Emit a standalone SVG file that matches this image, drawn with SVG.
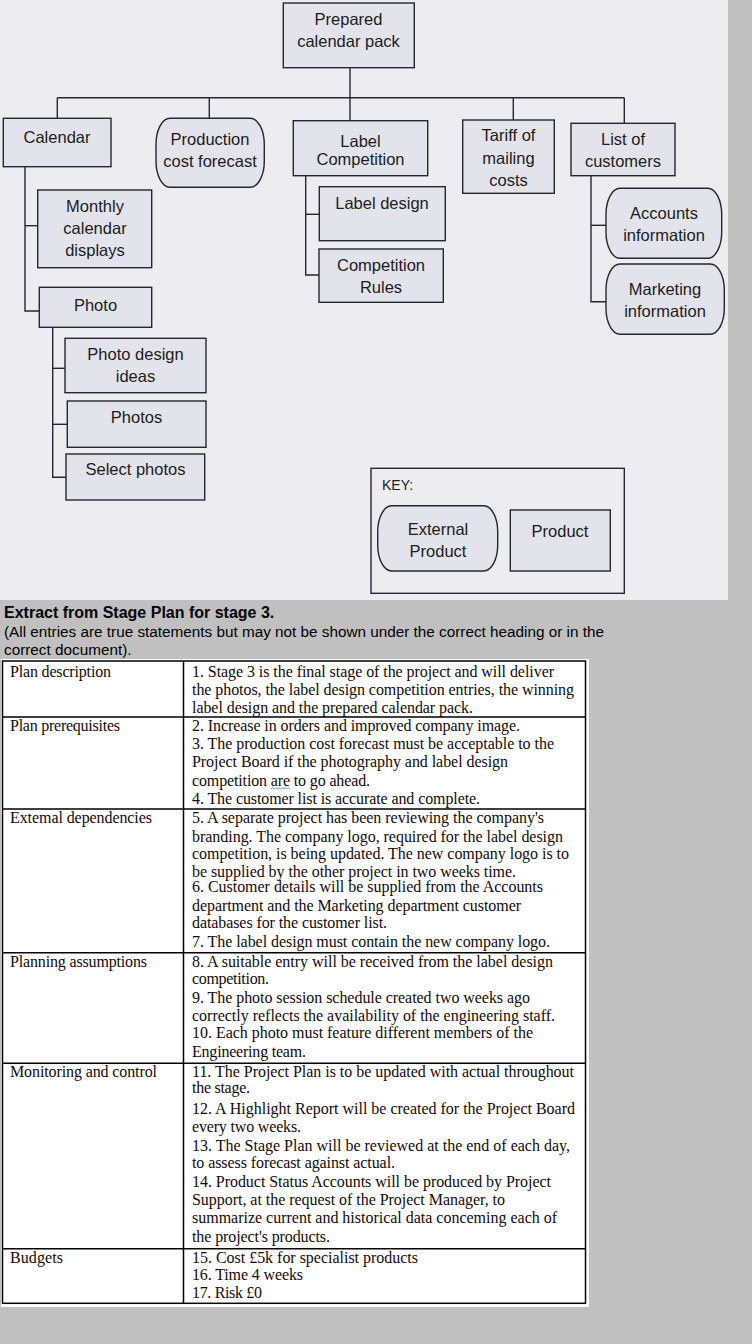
<svg xmlns="http://www.w3.org/2000/svg" width="752" height="1344" viewBox="0 0 752 1344">
<style>
.n{fill:#e3e3eb;stroke:#26262e;stroke-width:1.4}
.k{fill:none;stroke:#26262e;stroke-width:1.4}
.c{fill:none;stroke:#26262e;stroke-width:1.4}
.t{font-family:"Liberation Sans",Arial,sans-serif;font-size:16.5px;fill:#1c1c1c;text-anchor:middle}
.tb{font-family:"Liberation Serif","Times New Roman",serif;font-size:16px;fill:#140a0a}
.h{font-family:"Liberation Sans",Arial,sans-serif;fill:#000}
.g{fill:none;stroke:#000;stroke-width:1.5}
</style>
<rect x="0" y="0" width="752" height="1344" fill="#c0c0c0"/>
<rect x="0" y="0" width="728" height="600" fill="#ededf1"/>

<g id="connectors">
<path class="c" d="M350,68 V120.7"/>
<path class="c" d="M57.3,97.7 H624.3"/>
<path class="c" d="M57.3,97.7 V118.3"/>
<path class="c" d="M209.3,97.7 V118.3"/>
<path class="c" d="M513.3,97.7 V120"/>
<path class="c" d="M624.3,97.7 V123.3"/>
<path class="c" d="M25,166.7 V311 H39.3"/>
<path class="c" d="M25,225.7 H37.7"/>
<path class="c" d="M52.7,327.3 V477.3 H66"/>
<path class="c" d="M52.7,368.3 H65"/>
<path class="c" d="M52.7,424.3 H67.3"/>
<path class="c" d="M305.7,175.7 V275 H319"/>
<path class="c" d="M305.7,214.3 H319.3"/>
<path class="c" d="M591,175.7 V301.7 H607"/>
<path class="c" d="M591,225.3 H606"/>
</g>

<g id="prepared"><rect class="n" x="283.3" y="3" width="131" height="64.7"/><text class="t" x="348.5" y="25">Prepared</text><text class="t" x="348.5" y="47">calendar pack</text></g>
<g id="calendar"><rect class="n" x="3.3" y="118.3" width="107.7" height="48.4"/><text class="t" x="57" y="143">Calendar</text></g>
<g id="production"><rect class="n" x="156" y="118.3" width="108.3" height="69" rx="14" ry="26"/><text class="t" x="210" y="145">Production</text><text class="t" x="210" y="167">cost forecast</text></g>
<g id="label-competition"><rect class="n" x="293.3" y="120.7" width="134.4" height="55"/><text class="t" x="360.5" y="147">Label</text><text class="t" x="360.5" y="165">Competition</text></g>
<g id="tariff"><rect class="n" x="462.7" y="120" width="91.6" height="73.3"/><text class="t" x="508.5" y="141">Tariff of</text><text class="t" x="508.5" y="164">mailing</text><text class="t" x="508.5" y="186">costs</text></g>
<g id="list-customers"><rect class="n" x="571" y="123.3" width="104" height="52.4"/><text class="t" x="623" y="145">List of</text><text class="t" x="623" y="167">customers</text></g>
<g id="monthly"><rect class="n" x="37.7" y="190" width="114" height="77.7"/><text class="t" x="95" y="212">Monthly</text><text class="t" x="95" y="234">calendar</text><text class="t" x="95" y="256">displays</text></g>
<g id="photo"><rect class="n" x="39.3" y="287.3" width="112.4" height="40"/><text class="t" x="95.5" y="311">Photo</text></g>
<g id="photo-design"><rect class="n" x="65" y="338.3" width="141" height="54.4"/><text class="t" x="135.5" y="360">Photo design</text><text class="t" x="135.5" y="382">ideas</text></g>
<g id="photos"><rect class="n" x="67.3" y="401" width="138.7" height="46.3"/><text class="t" x="136.5" y="423">Photos</text></g>
<g id="select-photos"><rect class="n" x="66" y="454" width="138.7" height="46"/><text class="t" x="135.5" y="475">Select photos</text></g>
<g id="label-design"><rect class="n" x="319.3" y="186.7" width="126" height="54"/><text class="t" x="382" y="209">Label design</text></g>
<g id="competition-rules"><rect class="n" x="319" y="249" width="124.3" height="53.3"/><text class="t" x="381" y="271">Competition</text><text class="t" x="381" y="293">Rules</text></g>
<g id="accounts"><rect class="n" x="606" y="188.3" width="115.7" height="70" rx="14" ry="26"/><text class="t" x="664" y="219">Accounts</text><text class="t" x="664" y="241">information</text></g>
<g id="marketing"><rect class="n" x="606" y="264" width="118.3" height="70.3" rx="14" ry="26"/><text class="t" x="665" y="295">Marketing</text><text class="t" x="665" y="317">information</text></g>
<g id="key"><rect class="k" x="371" y="468.3" width="253.3" height="125"/><text class="t" x="382" y="490" style="text-anchor:start;font-size:14px">KEY:</text>
<rect class="n" x="377.7" y="505.7" width="120" height="65.3" rx="14" ry="26"/><text class="t" x="438" y="535">External</text><text class="t" x="438" y="557">Product</text>
<rect class="n" x="510.3" y="510" width="100" height="61"/><text class="t" x="560" y="537">Product</text></g>

<g id="heading">
<text class="h" x="4" y="618" font-size="16" font-weight="bold">Extract from Stage Plan for stage 3.</text>
<text class="h" x="4" y="637" font-size="15.3" textLength="600">(All entries are true statements but may not be shown under the correct heading or in the</text>
<text class="h" x="4" y="654.5" font-size="15.3">correct document).</text>
</g>

<g id="table">
<rect x="1" y="659" width="588" height="648" fill="#fff"/>
<rect class="g" x="2.5" y="661" width="583" height="642.3"/>
<path class="g" d="M183.5,661 V1303.3 M2.5,717 H585.5 M2.5,809 H585.5 M2.5,952.7 H585.5 M2.5,1063.3 H585.5 M2.5,1248.7 H585.5"/>
<text class="tb" x="10" y="677" textLength="101">Plan description</text>
<text class="tb" x="10" y="731" textLength="110">Plan prerequisites</text>
<text class="tb" x="10" y="823.3" textLength="142">Extemal dependencies</text>
<text class="tb" x="10" y="966.7" textLength="137">Planning assumptions</text>
<text class="tb" x="10" y="1076.7" textLength="147">Monitoring and control</text>
<text class="tb" x="10" y="1262.7" textLength="53">Budgets</text>

<text class="tb" x="192" y="677" textLength="362">1. Stage 3 is the final stage of the project and will deliver</text>
<text class="tb" x="192" y="695" textLength="382">the photos, the label design competition entries, the winning</text>
<text class="tb" x="192" y="712.5" textLength="281">label design and the prepared calendar pack.</text>

<text class="tb" x="192" y="731" textLength="328">2. Increase in orders and improved company image.</text>
<text class="tb" x="192" y="749.3" textLength="362">3. The production cost forecast must be acceptable to the</text>
<text class="tb" x="192" y="767.3" textLength="316">Project Board if the photography and label design</text>
<text class="tb" x="192" y="785.7" textLength="178">competition are to go ahead.</text>
<path d="M271,789 l1.6,-1.3 l1.6,1.3 l1.6,-1.3 l1.6,1.3 l1.6,-1.3 l1.6,1.3 l1.6,-1.3 l1.6,1.3 l1.6,-1.3 l1.6,1.3 l1.6,-1.3 l1.6,1.3" fill="none" stroke="#6a78a8" stroke-width="0.8"/>
<text class="tb" x="192" y="804.3" textLength="288">4. The customer list is accurate and complete.</text>

<text class="tb" x="192" y="823.3" textLength="352">5. A separate project has been reviewing the company's</text>
<text class="tb" x="192" y="841.7" textLength="371">branding. The company logo, required for the label design</text>
<text class="tb" x="192" y="859.3" textLength="377">competition, is being updated. The new company logo is to</text>
<text class="tb" x="192" y="876.7" textLength="324">be supplied by the other project in two weeks time.</text>
<text class="tb" x="192" y="891.7" textLength="351">6. Customer details will be supplied from the Accounts</text>
<text class="tb" x="192" y="910.7" textLength="329">department and the Marketing department customer</text>
<text class="tb" x="192" y="928.3" textLength="195">databases for the customer list.</text>
<text class="tb" x="192" y="946.7" textLength="358">7. The label design must contain the new company logo.</text>

<text class="tb" x="192" y="966.7" textLength="361">8. A suitable entry will be received from the label design</text>
<text class="tb" x="192" y="984" textLength="77">competition.</text>
<text class="tb" x="192" y="1002.7" textLength="338">9. The photo session schedule created two weeks ago</text>
<text class="tb" x="192" y="1020.7" textLength="363">correctly reflects the availability of the engineering staff.</text>
<text class="tb" x="192" y="1038.3" textLength="341">10. Each photo must feature different members of the</text>
<text class="tb" x="192" y="1056.7" textLength="114">Engineering team.</text>

<text class="tb" x="192" y="1076.7" textLength="382">11. The Project Plan is to be updated with actual throughout</text>
<text class="tb" x="192" y="1093.3" textLength="58">the stage.</text>
<text class="tb" x="192" y="1114" textLength="383">12. A Highlight Report will be created for the Project Board</text>
<text class="tb" x="192" y="1131.7" textLength="109">every two weeks.</text>
<text class="tb" x="192" y="1150.7" textLength="378">13. The Stage Plan will be reviewed at the end of each day,</text>
<text class="tb" x="192" y="1168.3" textLength="203">to assess forecast against actual.</text>
<text class="tb" x="192" y="1187.3" textLength="359">14. Product Status Accounts will be produced by Project</text>
<text class="tb" x="192" y="1205" textLength="313">Support, at the request of the Project Manager, to</text>
<text class="tb" x="192" y="1223.3" textLength="365">summarize current and historical data conceming each of</text>
<text class="tb" x="192" y="1241.7" textLength="138">the project's products.</text>

<text class="tb" x="192" y="1262.7" textLength="226">15. Cost £5k for specialist products</text>
<text class="tb" x="192" y="1280" textLength="111">16. Time 4 weeks</text>
<text class="tb" x="192" y="1298.3" textLength="70">17. Risk £0</text>
</g>
</svg>
